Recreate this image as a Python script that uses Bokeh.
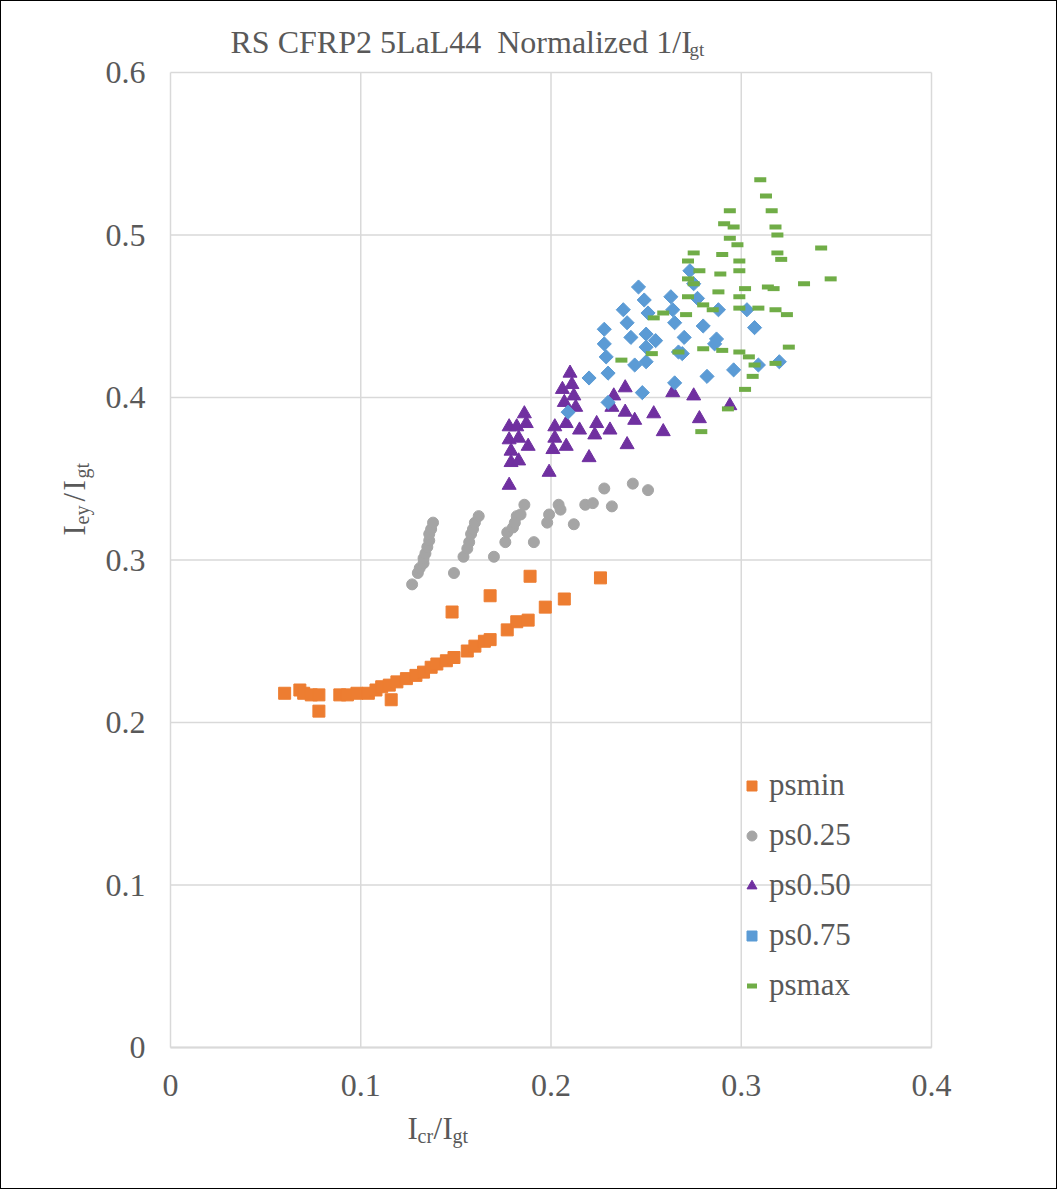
import math
from bokeh.plotting import figure
from bokeh.models import Range1d, FixedTicker, Label, Legend, LegendItem, LinearAxis
from bokeh.embed import file_html
from bokeh.resources import INLINE

# ---------------- data ----------------
psmin_x = [0.060, 0.068, 0.070, 0.074, 0.078, 0.078, 0.089, 0.093, 0.098, 0.104, 0.108, 0.111,
           0.115, 0.116, 0.119, 0.124, 0.129, 0.133, 0.137, 0.140, 0.145, 0.149, 0.148, 0.156,
           0.160, 0.165, 0.168, 0.168, 0.177, 0.182, 0.188, 0.189, 0.197, 0.207, 0.226]
psmin_y = [0.218, 0.220, 0.218, 0.217, 0.217, 0.207, 0.217, 0.217, 0.218, 0.218, 0.220, 0.222,
           0.223, 0.214, 0.225, 0.227, 0.229, 0.231, 0.234, 0.236, 0.238, 0.240, 0.268, 0.244,
           0.247, 0.250, 0.251, 0.278, 0.257, 0.262, 0.263, 0.290, 0.271, 0.276, 0.289]

ps25_x = [0.127, 0.130, 0.131, 0.133, 0.133, 0.134, 0.135, 0.136, 0.136, 0.137, 0.138,
          0.149, 0.154, 0.156, 0.157, 0.158, 0.159, 0.160, 0.162,
          0.170, 0.176, 0.177, 0.180, 0.181, 0.182, 0.184, 0.186,
          0.191, 0.198, 0.199, 0.204, 0.205, 0.212, 0.218, 0.222, 0.228, 0.232, 0.243, 0.251]
ps25_y = [0.285, 0.292, 0.295, 0.298, 0.301, 0.304, 0.308, 0.312, 0.316, 0.319, 0.323,
          0.292, 0.302, 0.307, 0.311, 0.316, 0.319, 0.323, 0.327,
          0.302, 0.311, 0.317, 0.320, 0.323, 0.327, 0.328, 0.334,
          0.311, 0.323, 0.328, 0.334, 0.331, 0.322, 0.334, 0.335, 0.344, 0.333, 0.347, 0.343]

ps50_x = [0.178, 0.178, 0.182, 0.186, 0.187, 0.178, 0.183, 0.188, 0.179, 0.179,
          0.183, 0.199, 0.202, 0.202, 0.201, 0.208, 0.208, 0.207, 0.206, 0.210,
          0.211, 0.212, 0.213, 0.215, 0.220, 0.224, 0.223, 0.231, 0.233, 0.232,
          0.239, 0.239, 0.244, 0.240, 0.254, 0.259, 0.264, 0.275, 0.278, 0.294]
ps50_y = [0.346, 0.382, 0.382, 0.390, 0.384, 0.374, 0.375, 0.370, 0.367, 0.360,
          0.361, 0.354, 0.382, 0.375, 0.368, 0.370, 0.384, 0.397, 0.405, 0.415,
          0.408, 0.401, 0.394, 0.380, 0.363, 0.384, 0.377, 0.380, 0.401, 0.394,
          0.406, 0.391, 0.386, 0.371, 0.390, 0.379, 0.403, 0.401, 0.387, 0.395]

ps75_x = [0.246, 0.263, 0.249, 0.238, 0.264, 0.277, 0.275, 0.273, 0.251, 0.240,
          0.265, 0.280, 0.288, 0.303, 0.307, 0.228, 0.242, 0.250, 0.255, 0.270,
          0.287, 0.286, 0.228, 0.250, 0.229, 0.267, 0.269, 0.244, 0.250, 0.230,
          0.220, 0.282, 0.296, 0.309, 0.320, 0.265, 0.248, 0.230, 0.209]
ps75_y = [0.468, 0.462, 0.460, 0.454, 0.454, 0.461, 0.470, 0.478, 0.452, 0.446,
          0.446, 0.444, 0.454, 0.454, 0.443, 0.442, 0.437, 0.439, 0.435, 0.437,
          0.436, 0.433, 0.433, 0.431, 0.425, 0.428, 0.427, 0.420, 0.422, 0.415,
          0.412, 0.413, 0.417, 0.420, 0.422, 0.409, 0.403, 0.397, 0.391]

psmax_x = [0.310, 0.313, 0.316, 0.318, 0.319, 0.319, 0.321, 0.342, 0.347, 0.333,
           0.314, 0.317, 0.294, 0.291, 0.296, 0.294, 0.298, 0.275, 0.272, 0.290,
           0.299, 0.278, 0.299, 0.289, 0.272, 0.275, 0.302, 0.288, 0.272, 0.299,
           0.280, 0.285, 0.299, 0.309, 0.318, 0.324, 0.259, 0.254, 0.271, 0.325,
           0.237, 0.253, 0.267, 0.280, 0.290, 0.299, 0.304, 0.307, 0.318, 0.306,
           0.302, 0.293, 0.279]
psmax_y = [0.534, 0.524, 0.515, 0.505, 0.500, 0.489, 0.485, 0.492, 0.473, 0.470,
           0.468, 0.467, 0.515, 0.507, 0.505, 0.498, 0.494, 0.489, 0.484, 0.488,
           0.484, 0.478, 0.478, 0.476, 0.473, 0.470, 0.467, 0.465, 0.462, 0.462,
           0.457, 0.454, 0.455, 0.455, 0.454, 0.451, 0.452, 0.449, 0.451, 0.431,
           0.423, 0.427, 0.428, 0.430, 0.429, 0.428, 0.425, 0.420, 0.421, 0.413,
           0.405, 0.393, 0.379]

x_ticks = [0, 0.1, 0.2, 0.3, 0.4]
x_tick_labels = ["0", "0.1", "0.2", "0.3", "0.4"]
y_ticks = [0, 0.1, 0.2, 0.3, 0.4, 0.5, 0.6]
y_tick_labels = ["0", "0.1", "0.2", "0.3", "0.4", "0.5", "0.6"]

series_names = ["psmin", "ps0.25", "ps0.50", "ps0.75", "psmax"]

# ---------------- layout (canvas pixels) ----------------
W, H = 1057, 1189            # canvas; +1px CSS border on each side -> 1059 x 1191
PX0, PX1 = 169, 930          # canvas x of x=0 and x=0.4
PY0, PY1 = 1046, 71          # canvas y of y=0 and y=0.6
XMIN, XMAX = x_ticks[0], x_ticks[-1]
YMIN, YMAX = y_ticks[0], y_ticks[-1]
kx = (XMAX - XMIN) / (PX1 - PX0)
ky = (YMAX - YMIN) / (PY0 - PY1)
x_range = Range1d(XMIN - PX0 * kx, XMAX + (W - PX1) * kx)
y_range = Range1d(YMIN - (H - PY0) * ky, YMAX + PY1 * ky)

FONT = "Liberation Serif"
GREY_TXT = "#595959"
GRID = "#D9D9D9"

p = figure(width=W, height=H, x_range=x_range, y_range=y_range,
           x_axis_type=None, y_axis_type=None,
           output_backend="svg", toolbar_location=None,
           min_border=0, min_border_left=0, min_border_right=0,
           min_border_top=0, min_border_bottom=0)
p.title.visible = False
p.styles = {"border": "1px solid black"}
p.outline_line_color = None
p.background_fill_color = "white"
p.border_fill_color = "white"

# gridlines (plot area only)
p.segment(x0=x_ticks, y0=[YMIN] * len(x_ticks), x1=x_ticks, y1=[YMAX] * len(x_ticks),
          line_color=GRID, line_width=1.5)
p.segment(x0=[XMIN] * len(y_ticks), y0=y_ticks, x1=[XMAX] * len(y_ticks), y1=y_ticks,
          line_color=GRID, line_width=1.5)

# axes drawn at fixed data locations
xaxis = LinearAxis(fixed_location=YMIN, ticker=FixedTicker(ticks=x_ticks), bounds=(XMIN, XMAX))
yaxis = LinearAxis(fixed_location=XMIN, ticker=FixedTicker(ticks=y_ticks), bounds=(YMIN, YMAX))
xaxis.major_label_overrides = dict(zip(x_ticks, x_tick_labels))
yaxis.major_label_overrides = dict(zip(y_ticks, y_tick_labels))
for ax in (xaxis, yaxis):
    ax.major_tick_line_color = None
    ax.minor_tick_line_color = None
    ax.major_label_text_font = FONT
    ax.major_label_text_font_size = "32px"
    ax.major_label_text_color = GREY_TXT
xaxis.axis_line_color = GRID
xaxis.axis_line_width = 2
yaxis.axis_line_color = None
xaxis.major_label_standoff = 21
yaxis.major_label_standoff = 19
p.add_layout(xaxis, "below")
p.add_layout(yaxis, "left")

# ---------------- series ----------------
r1 = p.scatter(psmin_x, psmin_y, marker="square", size=12, color="#ED7D31")
r2 = p.scatter(ps25_x, ps25_y, marker="circle", size=11, color="#A5A5A5")
r3 = p.scatter(ps50_x, ps50_y, marker="triangle", size=14, color="#7030A0")
r4 = p.scatter(ps75_x, ps75_y, marker="square", size=10, angle=math.pi / 4, color="#5B9BD5")
r5 = p.scatter(psmax_x, psmax_y, marker="dash", size=12, line_width=5, color="#70AD47")

legend = Legend(items=[LegendItem(label=n, renderers=[r]) for n, r in
                       zip(series_names, [r1, r2, r3, r4, r5])],
                location=(738, 185), orientation="vertical",
                glyph_width=25, glyph_height=25, label_height=40, spacing=10,
                label_standoff=5, padding=0, margin=0,
                label_text_font=FONT, label_text_font_size="31px",
                label_text_color=GREY_TXT,
                background_fill_alpha=0, border_line_color=None)
p.add_layout(legend)


# ---------------- text (page pixel positions -> data coordinates) ----------------
def dx(page_px):
    return XMIN + (page_px - 1 - PX0) * kx


def dy(page_py):
    return YMIN + (PY0 - (page_py - 1)) * ky


def add_text(txt, px, py, size, angle=0.0):
    p.add_layout(Label(x=dx(px), y=dy(py), text=txt, text_font=FONT,
                       text_font_size=f"{size}px", text_color=GREY_TXT,
                       text_align="left", text_baseline="alphabetic", angle=angle))


# title
add_text("RS CFRP2 5LaL44\u00a0 Normalized 1/I", 230, 41, 32)
add_text("gt", 689, 49, 19)

# x axis label
add_text("I", 407, 1128, 31)
add_text("cr", 417, 1135, 20)
add_text("/", 433, 1128, 31)
add_text("I", 442, 1128, 31)
add_text("gt", 452, 1135, 20)

# y axis label (rotated, reads upward)
rot = math.pi / 2
add_text("I", 74, 535, 31, rot)
add_text("ey", 81, 524, 20, rot)
add_text("/", 74, 501, 31, rot)
add_text("I", 74, 490, 31, rot)
add_text("gt", 81, 478, 20, rot)

open("out.html", "w").write(file_html(p, INLINE))
